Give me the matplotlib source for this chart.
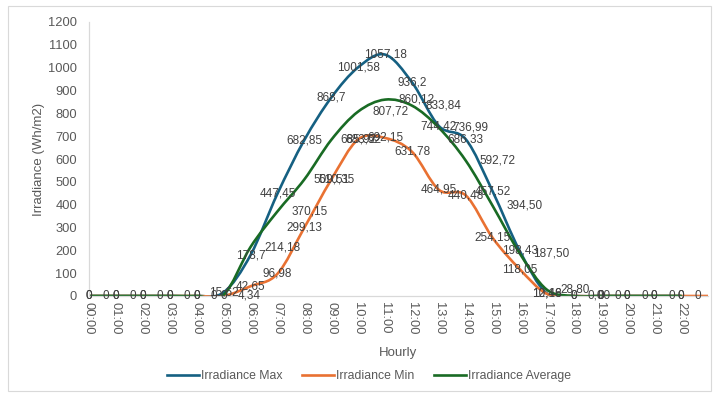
"""
Hourly solar irradiance: max, min and average over the day.
"""

import matplotlib

matplotlib.use("Agg")

import matplotlib.pyplot as plt
import numpy as np
from matplotlib.lines import Line2D
from matplotlib.patches import PathPatch, Rectangle
from matplotlib.path import Path

# Categories (the last one has no label on the axis).
hours = [f"{h:02d}:00" for h in range(23)] + [""]

# Values as shown in the data labels (decimal comma).
irr_max = ["0"] * 5 + [
    "15,62", "178,7", "447,45", "682,85", "868,7", "1001,58", "1057,18",
    "936,2", "744,42", "686,33", "457,52", "198,43", "12,46",
    "0", "0", "0", "0", "0",
]
irr_min = ["0"] * 6 + [
    "42,65", "96,98", "299,13", "509,51", "685,92", "692,15", "631,78",
    "464,95", "440,48", "254,15", "118,05", "10,18",
    "0", "0", "0", "0", "0", "0",
]
irr_avg = ["0"] * 5 + [
    "4,34", "214,18", "370,15", "510,35", "683,52", "807,72", "860,12",
    "833,84", "736,99", "592,72", "394,50", "187,50", "28,80",
    "0,00", "0", "0", "0", "0",
]

series = [
    ("Irradiance Max", irr_max, "#156082", "center"),
    ("Irradiance Min", irr_min, "#E97132", "center"),
    ("Irradiance Average", irr_avg, "#196B24", "right"),
]

text_color = "#595959"
axis_color = "#D9D9D9"


def smooth_path(x, y):
    """Excel-like smoothed line: cubic Bezier through every point."""
    n = len(x)
    verts = [(x[0], y[0])]
    codes = [Path.MOVETO]
    for i in range(n - 1):
        xa, ya = (x[i - 1], y[i - 1]) if i > 0 else (x[i], y[i])
        xb, yb = (x[i + 2], y[i + 2]) if i + 2 < n else (x[i + 1], y[i + 1])
        c1 = (x[i] + (x[i + 1] - xa) / 6, y[i] + (y[i + 1] - ya) / 6)
        c2 = (x[i + 1] - (xb - x[i]) / 6, y[i + 1] - (yb - y[i]) / 6)
        verts += [c1, c2, (x[i + 1], y[i + 1])]
        codes += [Path.CURVE4] * 3
    return Path(verts, codes)


plt.rcParams["font.family"] = ["Liberation Sans", "DejaVu Sans"]

fig = plt.figure(figsize=(7.13, 3.94), dpi=100)
ax = fig.add_axes([89 / 713, 1 - 296 / 394, (708 - 89) / 713, (296 - 22) / 394])

handles = []
for name, labels, color, _ in series:
    y = np.array([float(s.replace(",", ".")) for s in labels])
    x = np.arange(len(y))
    ax.add_patch(
        PathPatch(
            smooth_path(x, y),
            facecolor="none",
            edgecolor=color,
            lw=1.9,
            capstyle="round",
            joinstyle="round",
            zorder=2,
        )
    )
    handles.append(Line2D([], [], color=color, lw=1.9, label=name))

# Data labels on top of all lines.
for name, labels, color, pos in series:
    for i, s in enumerate(labels):
        if hours[i] == "":
            continue
        v = float(s.replace(",", "."))
        if pos == "right":
            ax.annotate(s, (i, v), xytext=(10, 0), textcoords="offset points",
                        ha="left", va="center", fontsize=8.5,
                        color="#404040", zorder=5, annotation_clip=False)
        else:
            ax.annotate(s, (i, v), ha="center", va="center", fontsize=8.5,
                        color="#404040", zorder=5, annotation_clip=False)

ax.set_xlim(0, 23)
ax.set_ylim(0, 1200)
ax.set_yticks(np.arange(0, 1201, 100))
ax.set_xticks(np.arange(len(hours)))
ax.set_xticklabels(hours, rotation=270)
ax.tick_params(axis="both", length=0, labelsize=9.3, labelcolor=text_color)
ax.tick_params(axis="y", pad=8.5)
ax.tick_params(axis="x", pad=4)

for side in ["top", "right"]:
    ax.spines[side].set_visible(False)
for side in ["left", "bottom"]:
    ax.spines[side].set_color(axis_color)
    ax.spines[side].set_linewidth(0.9)

ax.set_ylabel("Irradiance (Wh/m2)", fontsize=9.5, color=text_color, labelpad=2.5)
ax.set_xlabel("Hourly", fontsize=9.5, color=text_color, labelpad=9)

fig.legend(
    handles=handles,
    loc="center",
    bbox_to_anchor=(369 / 713, 1 - 376 / 394),
    ncol=3,
    frameon=False,
    fontsize=8.8,
    handlelength=2.6,
    handletextpad=0.2,
    columnspacing=1.6,
    labelcolor=text_color,
)

# Chart area border.
fig.add_artist(
    Rectangle((8 / 713, 3 / 394), 703 / 713, 385 / 394, transform=fig.transFigure,
              facecolor="none", edgecolor=axis_color, lw=0.8)
)

fig.savefig("out.png", dpi=100)
